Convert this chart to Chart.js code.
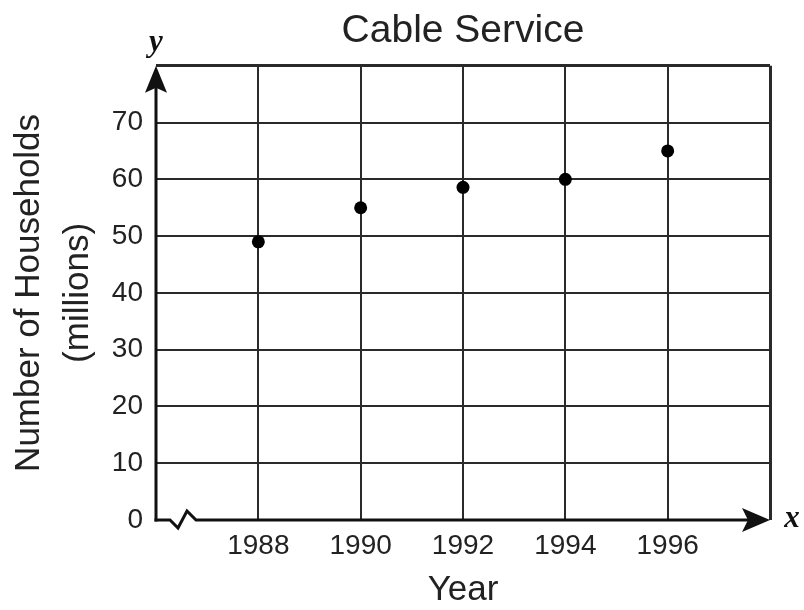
<!DOCTYPE html>
<html>
<head>
<meta charset="utf-8">
<script src="https://cdn.jsdelivr.net/npm/chart.js@4.4.0/dist/chart.umd.min.js"></script>
<style>
  html, body { margin: 0; padding: 0; background: #fff; }
</style>
</head>
<body>
<canvas id="cableChart" width="804" height="610"></canvas>
<script>
// data
const years = [1988, 1990, 1992, 1994, 1996];
const households = [49, 55, 58.6, 60, 65];
const xTickLabels = ['1988', '1990', '1992', '1994', '1996'];
const yTickLabels = ['0', '10', '20', '30', '40', '50', '60', '70'];

const FONT = '"Liberation Sans", Arial, Helvetica, sans-serif';
const INK = '#222';
const GRID = '#2a2a2a';

Chart.defaults.font.family = FONT;
Chart.defaults.color = INK;

// axes with arrows, the break on the x axis, and the x / y letters
const axisArrows = {
    id: 'axisArrows',
    beforeDatasetsDraw(chart) {
        const { ctx, chartArea: a } = chart;
        const x0 = a.left, y0 = a.bottom;
        ctx.save();
        ctx.strokeStyle = '#111';
        ctx.fillStyle = '#111';
        ctx.lineWidth = 3;
        ctx.lineJoin = 'miter';

        // y axis
        ctx.beginPath();
        ctx.moveTo(x0, y0 + 1.5);
        ctx.lineTo(x0, a.top + 20);
        ctx.stroke();
        ctx.beginPath();
        ctx.moveTo(x0, a.top);
        ctx.lineTo(x0 - 11, a.top + 27);
        ctx.lineTo(x0, a.top + 22);
        ctx.lineTo(x0 + 11, a.top + 27);
        ctx.closePath();
        ctx.fill();

        // x axis with break
        ctx.beginPath();
        ctx.moveTo(x0 - 1.5, y0);
        ctx.lineTo(x0 + 14, y0);
        ctx.lineTo(x0 + 22, y0 + 8);
        ctx.lineTo(x0 + 31, y0 - 9);
        ctx.lineTo(x0 + 40, y0);
        ctx.lineTo(a.right - 20, y0);
        ctx.stroke();
        ctx.beginPath();
        ctx.moveTo(a.right, y0);
        ctx.lineTo(a.right - 28, y0 - 12);
        ctx.lineTo(a.right - 22, y0);
        ctx.lineTo(a.right - 28, y0 + 12);
        ctx.closePath();
        ctx.fill();

        ctx.font = 'italic bold 31px "Liberation Serif", "Times New Roman", serif';
        ctx.textAlign = 'center';
        ctx.textBaseline = 'alphabetic';
        ctx.fillText('y', x0, 51);
        ctx.fillText('x', a.right + 22, y0 + 7);
        ctx.restore();
    }
};

const ctx = document.getElementById('cableChart').getContext('2d');
const cableChart = new Chart(ctx, {
    type: 'scatter',
    data: {
        datasets: [{
            label: 'Households',
            data: years.map((yr, i) => ({ x: yr, y: households[i] })),
            backgroundColor: '#000',
            borderColor: '#000',
            borderWidth: 0,
            pointRadius: 6.5
        }]
    },
    options: {
        responsive: false,
        animation: false,
        devicePixelRatio: 1,
        layout: { padding: { top: 0, right: 34, bottom: 0, left: 0 } },
        plugins: {
            legend: { display: false },
            tooltip: { enabled: false },
            title: {
                display: true,
                fullSize: false,
                text: 'Cable Service',
                color: INK,
                font: { size: 39, weight: 'normal', lineHeight: 1.2 },
                padding: { top: 8, bottom: 11 }
            }
        },
        scales: {
            x: {
                type: 'linear',
                min: 1986,
                max: 1998,
                ticks: {
                    stepSize: 2,
                    autoSkip: false,
                    maxRotation: 0,
                    padding: 9,
                    color: INK,
                    font: { size: 28 },
                    callback: v => xTickLabels.includes(String(v)) ? String(v) : ''
                },
                grid: {
                    drawTicks: false,
                    color: c => c.tick && c.tick.value === 1986 ? 'rgba(0,0,0,0)' : GRID,
                    lineWidth: c => c.tick && c.tick.value === 1998 ? 3 : 2
                },
                border: { display: false },
                title: {
                    display: true,
                    text: 'Year',
                    color: INK,
                    font: { size: 35, lineHeight: 1.15 },
                    padding: { top: 0, bottom: 0 }
                },
                afterFit: s => { s.height = 90; }
            },
            y: {
                min: 0,
                max: 80,
                ticks: {
                    stepSize: 10,
                    padding: 13,
                    color: INK,
                    font: { size: 28 },
                    callback: v => yTickLabels.includes(String(v)) ? String(v) : ''
                },
                grid: {
                    drawTicks: false,
                    color: c => c.tick && c.tick.value === 0 ? 'rgba(0,0,0,0)' : GRID,
                    lineWidth: c => c.tick && c.tick.value === 80 ? 3 : 2
                },
                border: { display: false },
                title: {
                    display: true,
                    text: ['Number of Households', '(millions)'],
                    color: INK,
                    font: { size: 35, lineHeight: 1.4 },
                    padding: { top: 5, bottom: 0 }
                },
                afterFit: s => { s.width = 156; }
            }
        }
    },
    plugins: [axisArrows]
});
</script>
</body>
</html>
